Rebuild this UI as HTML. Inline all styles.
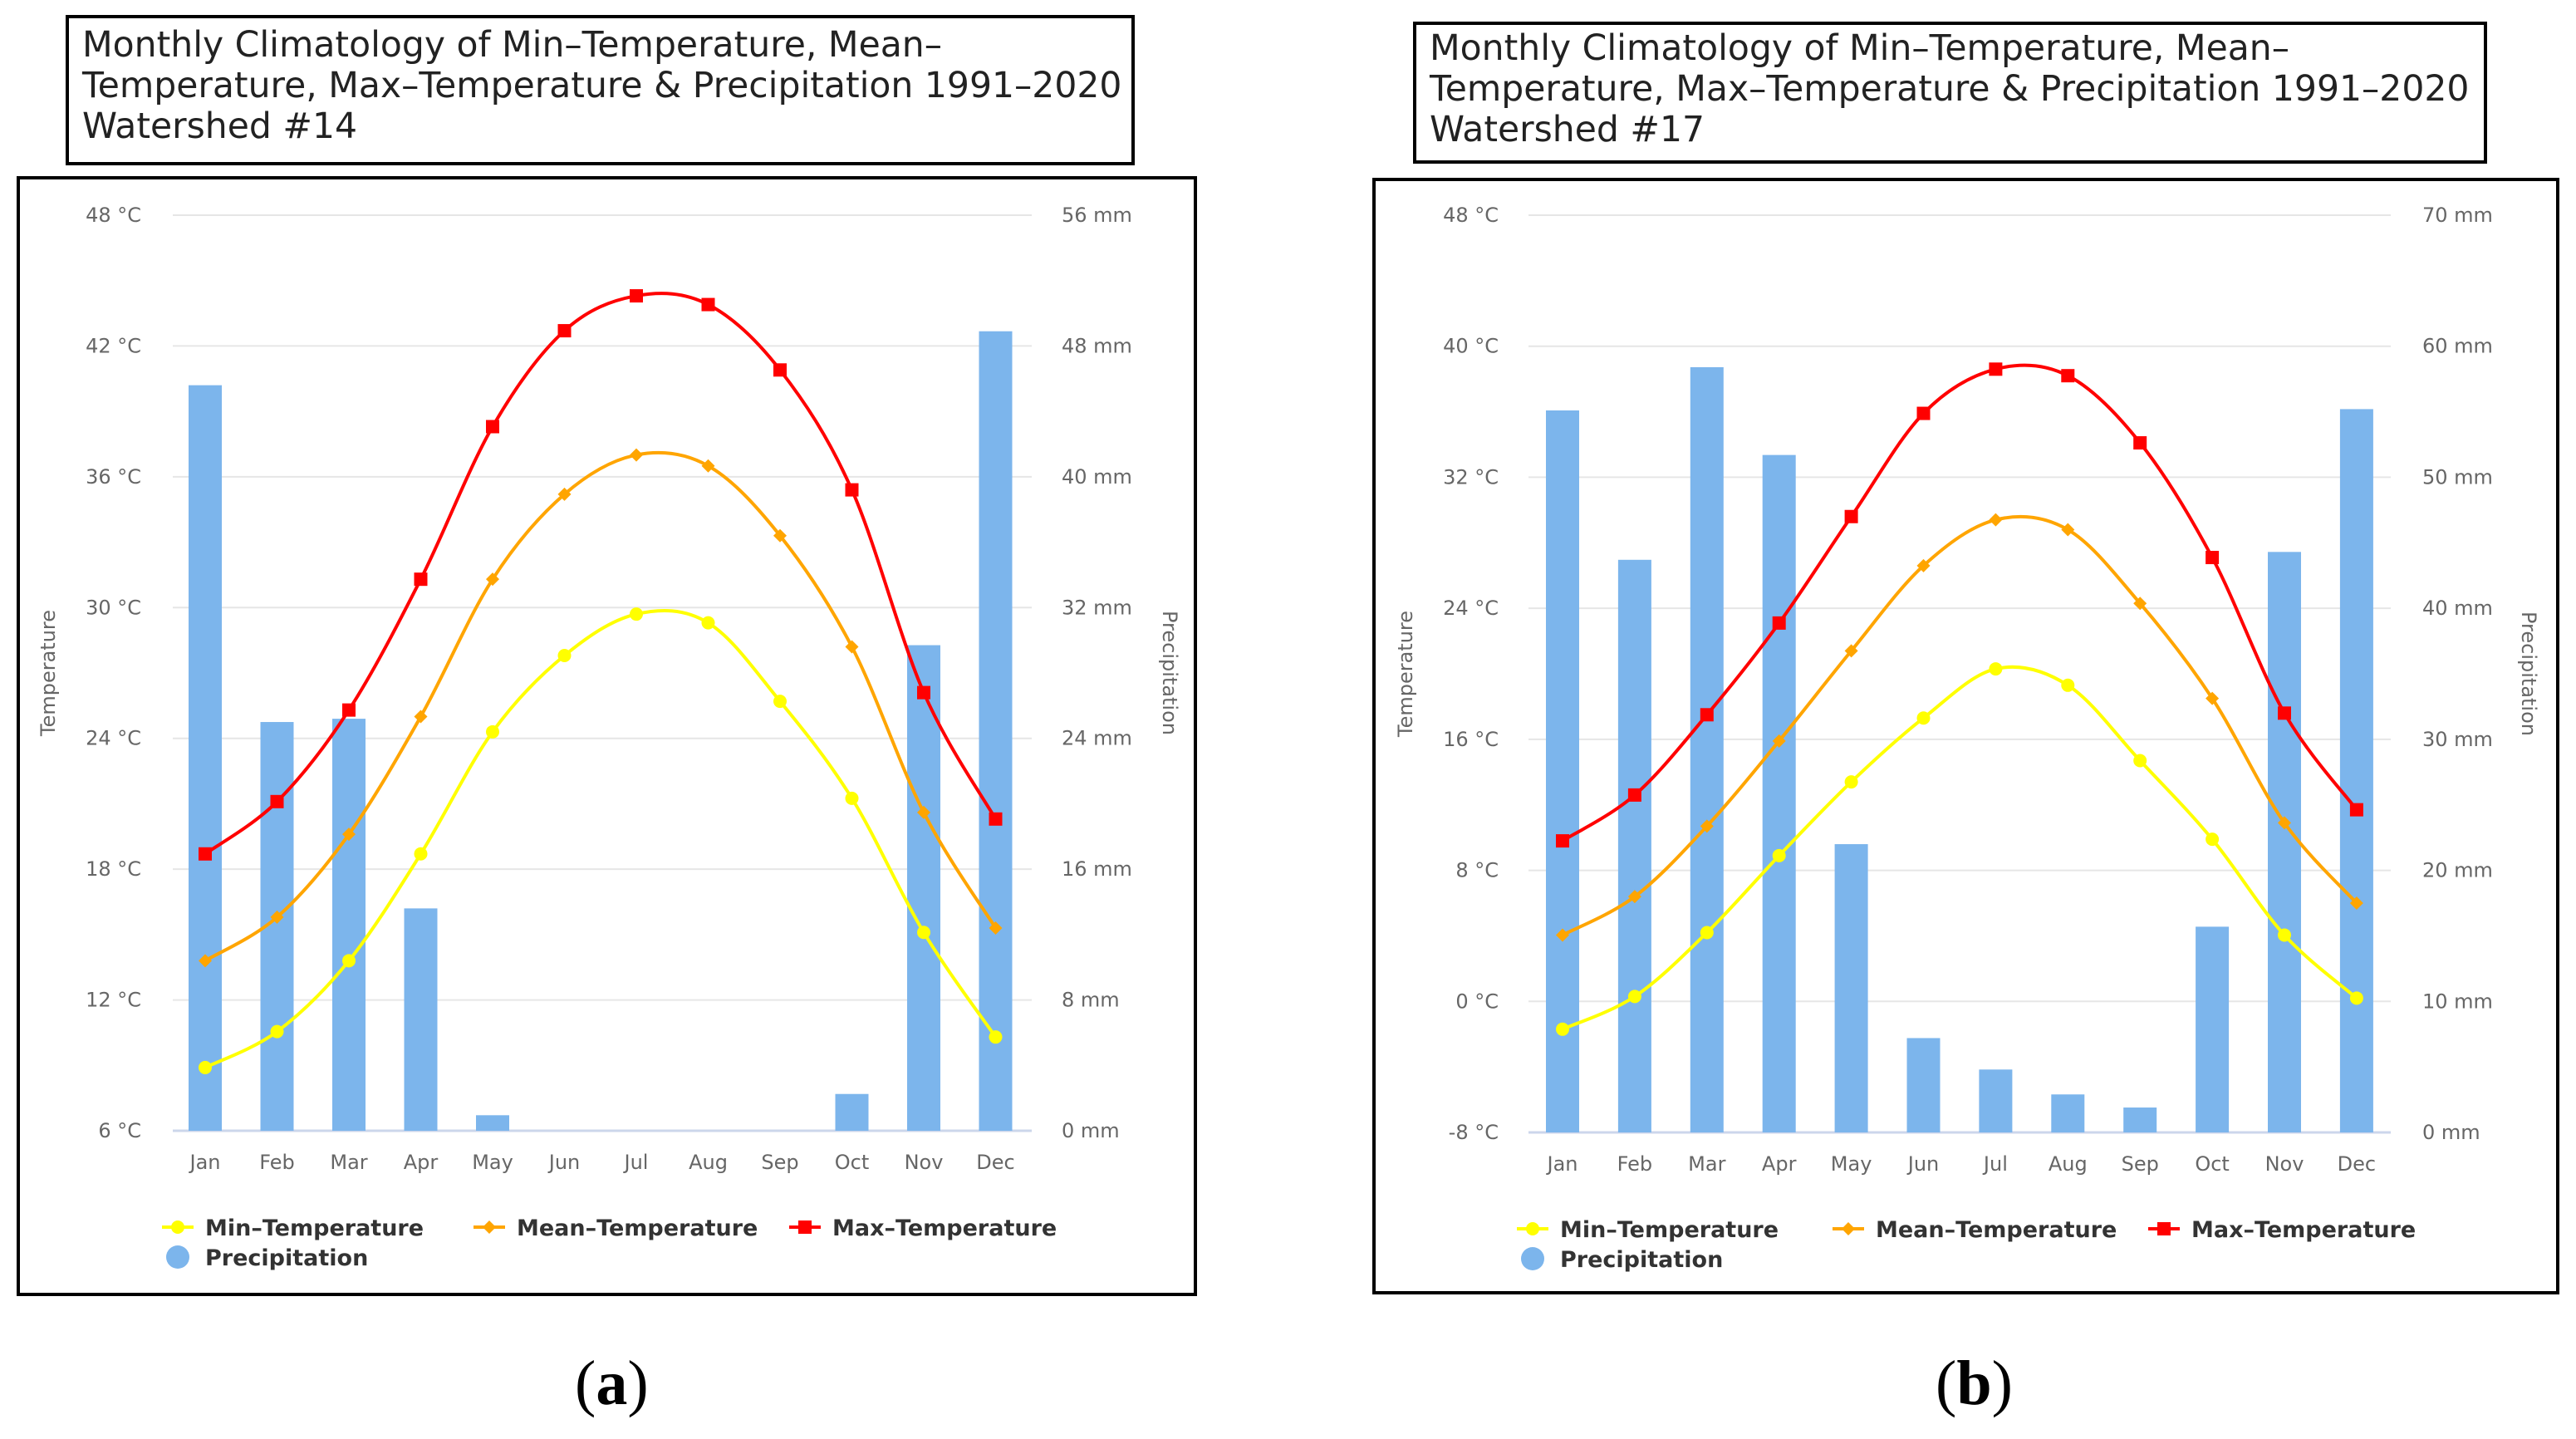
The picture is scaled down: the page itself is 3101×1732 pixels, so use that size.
<!DOCTYPE html>
<html><head><meta charset="utf-8">
<style>
html,body{margin:0;padding:0;background:#fff;}
body{width:3101px;height:1732px;position:relative;overflow:hidden;font-family:"DejaVu Sans","Liberation Sans",sans-serif;}
.title{position:absolute;border:4px solid #000;box-sizing:border-box;background:#fff;font-family:"DejaVu Sans","Liberation Sans",sans-serif;font-size:42.5px;line-height:49px;color:#222;padding:8px 16px;white-space:nowrap;}
.frame{position:absolute;border:4px solid #000;box-sizing:border-box;}
.cap{position:absolute;font-family:"Liberation Serif",serif;font-size:76px;}
svg{position:absolute;left:0;top:0;}
</style></head>
<body>
<div class="title" style="left:79px;top:18px;width:1287px;height:181px;">Monthly Climatology of Min–Temperature, Mean–<br>Temperature, Max–Temperature &amp; Precipitation 1991–2020<br>Watershed #14</div>
<div class="frame" style="left:20px;top:212px;width:1421px;height:1348px;"></div>
<div class="title" style="left:1701px;top:26px;width:1293px;height:171px;padding-top:4px;">Monthly Climatology of Min–Temperature, Mean–<br>Temperature, Max–Temperature &amp; Precipitation 1991–2020<br>Watershed #17</div>
<div class="frame" style="left:1652px;top:214px;width:1429px;height:1344px;"></div>
<div class="cap" style="left:692px;top:1622px;">(<b>a</b>)</div>
<div class="cap" style="left:2330px;top:1622px;">(<b>b</b>)</div>
<svg id="svg" width="3101" height="1732" xmlns="http://www.w3.org/2000/svg"></svg>
<script>
const months=["Jan","Feb","Mar","Apr","May","Jun","Jul","Aug","Sep","Oct","Nov","Dec"];
const aMin=[8.9,10.55,13.8,18.7,24.3,27.8,29.7,29.3,25.7,21.25,15.1,10.3];
const aMean=[13.8,15.8,19.6,25.0,31.3,35.2,37.0,36.5,33.3,28.2,20.6,15.3];
const aMax=[18.7,21.1,25.3,31.3,38.3,42.7,44.3,43.9,40.9,35.4,26.1,20.3];
const aPrecip=[45.6,25.0,25.2,13.6,0.95,0,0,0,0,2.25,29.7,48.9];
const aTempTicks=[6,12,18,24,30,36,42,48];
const aPrecipTicks=[0,8,16,24,32,40,48,56];
const bMin=[-1.7,0.3,4.2,8.9,13.4,17.3,20.3,19.3,14.7,9.9,4.05,0.2];
const bMean=[4.05,6.4,10.7,15.9,21.4,26.6,29.4,28.8,24.3,18.5,10.9,6.0];
const bMax=[9.8,12.6,17.5,23.1,29.6,35.9,38.6,38.2,34.1,27.1,17.6,11.7];
const bPrecip=[55.1,43.7,58.4,51.7,22.0,7.2,4.8,2.9,1.9,15.7,44.3,55.2];
const bTempTicks=[-8,0,8,16,24,32,40,48];
const bPrecipTicks=[0,10,20,30,40,50,60,70];

const svg=document.getElementById('svg');
const NS='http://www.w3.org/2000/svg';
function mk(tag,attrs,parent){const e=document.createElementNS(NS,tag);for(const k in attrs)e.setAttribute(k,attrs[k]);(parent||svg).appendChild(e);return e;}
function txt(s,attrs,parent){const e=mk('text',attrs,parent);e.textContent=s;return e;}
function spline(pts){
  let d='M'+pts[0][0]+','+pts[0][1];
  for(let i=0;i<pts.length-1;i++){
    const p0=pts[Math.max(0,i-1)],p1=pts[i],p2=pts[i+1],p3=pts[Math.min(pts.length-1,i+2)];
    const c1=[p1[0]+(p2[0]-p0[0])/6,p1[1]+(p2[1]-p0[1])/6];
    const c2=[p2[0]-(p3[0]-p1[0])/6,p2[1]-(p3[1]-p1[1])/6];
    d+=' C'+c1[0]+','+c1[1]+' '+c2[0]+','+c2[1]+' '+p2[0]+','+p2[1];
  }
  return d;
}
function chart(id,cfg,mn,me,mx,pr,tt,pt){
  const g=mk('g',{});
  
  
  const tMin=tt[0],tMax=tt[tt.length-1],pMax=pt[pt.length-1];
  const yT=v=>cfg.bot-(v-tMin)/(tMax-tMin)*(cfg.bot-cfg.top);
  const yP=v=>cfg.bot-v/pMax*(cfg.bot-cfg.top);
  const x=i=>cfg.x0+i*cfg.step;
  tt.forEach((v,i)=>{
    const gl=mk('line',{x1:cfg.gx0,x2:cfg.gx1,y1:yT(v),y2:yT(v),stroke:i===0?'#ccd6eb':'#e6e6e6','stroke-width':i===0?3:2},g);
    
    
    const l=txt(v+' °C',{x:cfg.lx,y:yT(v)+8,'text-anchor':'end','font-size':24,fill:'#666'},g);
    
    
  });
  pt.forEach(v=>{
    const l=txt(v+' mm',{x:cfg.rx,y:yP(v)+8,'font-size':24,fill:'#666'},g);
    
    
  });
  const yc=(cfg.top+cfg.bot)/2;
  const t1=txt('Temperature',{x:cfg.ytx,y:yc,'text-anchor':'middle','font-size':24,fill:'#666',transform:`rotate(-90 ${cfg.ytx} ${yc})`},g);
  
  
  const t2=txt('Precipitation',{x:cfg.ptx,y:yc,'text-anchor':'middle','font-size':24,fill:'#666',transform:`rotate(90 ${cfg.ptx} ${yc})`},g);
  
  
  months.forEach((m,i)=>{
    const l=txt(m,{x:x(i),y:cfg.bot+46,'text-anchor':'middle','font-size':24,fill:'#666'},g);
    
    
  });
  pr.forEach((v,i)=>{
    if(v<=0)return;
    const b=mk('rect',{x:x(i)-20,y:yP(v),width:40,height:cfg.bot-yP(v),fill:'#7cb5ec'},g);
    
    
  });
  const series=[[mn,'#ffff00','circle','min'],[me,'#ffa500','diamond','mean'],[mx,'#ff0000','square','max']];
  series.forEach(([arr,col,shape,nm])=>{
    const pts=arr.map((v,i)=>[x(i),yT(v)]);
    const p=mk('path',{d:spline(pts),fill:'none',stroke:col,'stroke-width':4},g);
    
    
    pts.forEach(([px,py])=>{
      let m;
      if(shape==='circle')m=mk('circle',{cx:px,cy:py,r:8,fill:col},g);
      else if(shape==='diamond')m=mk('path',{d:`M${px},${py-8} L${px+8},${py} L${px},${py+8} L${px-8},${py} Z`,fill:col},g);
      else m=mk('rect',{x:px-8,y:py-8,width:16,height:16,fill:col},g);
      
      
    });
  });
  const ly=cfg.ly;
  const legs=[['Min–Temperature','#ffff00','circle',cfg.lg[0]],['Mean–Temperature','#ffa500','diamond',cfg.lg[1]],['Max–Temperature','#ff0000','square',cfg.lg[2]]];
  legs.forEach(([s,col,shape,lx])=>{
    const lg=mk('g',{},g);
    
    
    mk('line',{x1:lx-19,x2:lx+19,y1:ly,y2:ly,stroke:col,'stroke-width':4},lg);
    const c=lx;
    if(shape==='circle')mk('circle',{cx:c,cy:ly,r:8,fill:col},lg);
    else if(shape==='diamond')mk('path',{d:`M${c},${ly-8} L${c+8},${ly} L${c},${ly+8} L${c-8},${ly} Z`,fill:col},lg);
    else mk('rect',{x:c-8,y:ly-8,width:16,height:16,fill:col},lg);
    txt(s,{x:lx+33,y:ly+10,'font-size':27,'font-weight':'bold',fill:'#333'},lg);
  });
  const lg=mk('g',{},g);
  
  
  mk('circle',{cx:cfg.lg[0],cy:ly+36,r:14,fill:'#7cb5ec'},lg);
  txt('Precipitation',{x:cfg.lg[0]+33,y:ly+46,'font-size':27,'font-weight':'bold',fill:'#333'},lg);
}
chart('chart-a',{x0:247,step:86.5,top:259,bot:1361,gx0:208,gx1:1242,lx:170,rx:1278,ytx:66,ptx:1400,ly:1477,lg:[214,589,969]},aMin,aMean,aMax,aPrecip,aTempTicks,aPrecipTicks);
chart('chart-b',{x0:1881,step:86.9,top:259,bot:1363,gx0:1840,gx1:2878,lx:1804,rx:2916,ytx:1700,ptx:3036,ly:1479,lg:[1845,2225,2605]},bMin,bMean,bMax,bPrecip,bTempTicks,bPrecipTicks);
</script>
</body></html>
